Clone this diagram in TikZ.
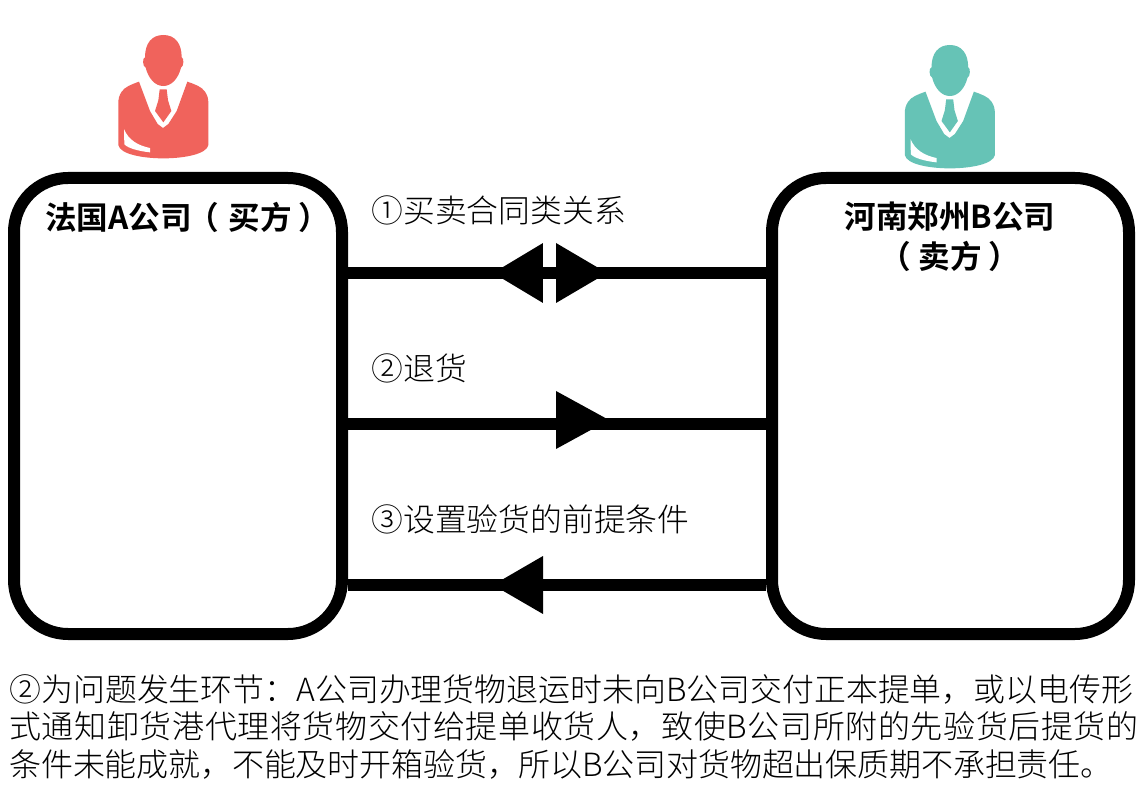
\documentclass[tikz,border=0pt]{standalone}
\usepackage{fontspec}
\newfontfamily\cjklight{Noto Sans CJK SC Light}
\newfontfamily\cjkwide[LetterSpace=1.9]{Noto Sans CJK SC Light}
\newfontfamily\cjknarrow[LetterSpace=-0.5]{Noto Sans CJK SC Light}
\newfontfamily\cjkbold{Noto Sans CJK SC Bold}
\definecolor{buyer}{HTML}{F0635C}
\definecolor{seller}{HTML}{66C3B6}
\tikzset{
  party/.style={draw=black,line width=6pt,rounded corners=27pt,fill=white,inner sep=0pt},
  flow/.style={draw=black,line width=6pt},
  head/.style={fill=black,draw=none},
  title/.style={font=\cjkbold\fontsize{15.8}{19}\selectfont,inner sep=0pt},
  label/.style={font=\cjklight\fontsize{15.9}{19}\selectfont,inner sep=0pt,anchor=west},
  note/.style={inner sep=0pt,anchor=west},
}
% person icon: local coordinates are 3x pixels, origin at the crop corner
\newcommand{\personicon}[2]{%
\begin{scope}[shift={(#1)},x=0.1667pt,y=-0.1667pt]
  \fill[#2] (117,170) .. controls (95,178) and (75,185) .. (65,200)
     .. controls (57,212) and (55,222) .. (55,235) -- (55,360)
     .. controls (60,388) and (130,400) .. (190,400)
     .. controls (250,400) and (320,388) .. (325,360) -- (325,235)
     .. controls (325,222) and (323,212) .. (315,200)
     .. controls (305,185) and (285,178) .. (262,170)
     -- (230,258) -- (205,297) -- (189,309) -- (173,297) -- (150,258) -- cycle;
  \fill[#2] (190,30) .. controls (225,30) and (245,55) .. (245,97)
     .. controls (252,97) and (252,125) .. (243,128)
     .. controls (235,160) and (215,183) .. (190,183)
     .. controls (165,183) and (145,160) .. (137,128)
     .. controls (127,125) and (127,97) .. (135,97)
     .. controls (135,55) and (155,30) .. (190,30) -- cycle;
  \fill[#2] (179,193) -- (200,193) -- (204,226) -- (214,258) -- (190,292) -- (165,258) -- (175,226) -- cycle;
  \fill[white] (72,312) .. controls (85,345) and (115,362) .. (150,369)
     -- (150,382) .. controls (115,378) and (85,370) .. (73,358) -- cycle;
\end{scope}}
\begin{document}
\begin{tikzpicture}[x=0.5pt,y=-0.5pt]
\useasboundingbox[fill=white] (0,0) rectangle (1147,791);
\personicon{100,25}{buyer}
\personicon{886.5,35}{seller}
% boxes
\node[party,minimum width=164pt,minimum height=228pt] (a) at (178,406) {};
\node[party,minimum width=178.5pt,minimum height=228pt] (b) at (950.5,406) {};
\node[title,anchor=west] (ta) at (45,217) {法国A公司\hspace{-2.5pt}（\hspace{5pt}买方\hspace{3.5pt}）};
\node[title] (tb1) at (950,217) {河南郑州B公司};
\node[title] (tb2) at (950,256) {（ 卖方 ）};
% connector levels
\coordinate (l1) at (557,273);
\coordinate (l2) at (557,424.5);
\coordinate (l3) at (557,585);
\draw[flow] (a.east |- l1) -- (b.west |- l1);
\draw[flow] (a.east |- l2) -- (b.west |- l2);
\draw[flow] (b.west |- l3) -- (a.east |- l3);
% arrowheads
\fill[head] (493,273) -- (543,243) -- (543,303) -- cycle;
\fill[white] (543,240) rectangle (556,267);
\fill[white] (543,279) rectangle (556,306);
\fill[head] (607,273) -- (556,243) -- (556,303) -- cycle;
\fill[head] (609,420) -- (556,391) -- (556,449) -- cycle;
\fill[head] (493,585) -- (543,556) -- (543,614) -- cycle;
% labels
\node[label] (n1) at (371,210) {①买卖合同类关系};
\node[label] (n2) at (371,368) {②退货};
\node[label] (n3) at (371,519) {③设置验货的前提条件};
\node[note,font=\cjklight\fontsize{15.95}{19}\selectfont] (t1) at (9,689) {②为问题发生环节：A公司办理货物退运时未向B公司交付正本提单，或以电传形};
\node[note,font=\cjkwide\fontsize{16}{19}\selectfont] (t2) at (9,726) {式通知卸货港代理将货物交付给提单收货人，致使B公司所附的先验货后提货的};
\node[note,font=\cjknarrow\fontsize{16}{19}\selectfont] (t3) at (9,764) {条件未能成就，不能及时开箱验货，所以B公司对货物超出保质期不承担责任。};
\end{tikzpicture}
\end{document}
